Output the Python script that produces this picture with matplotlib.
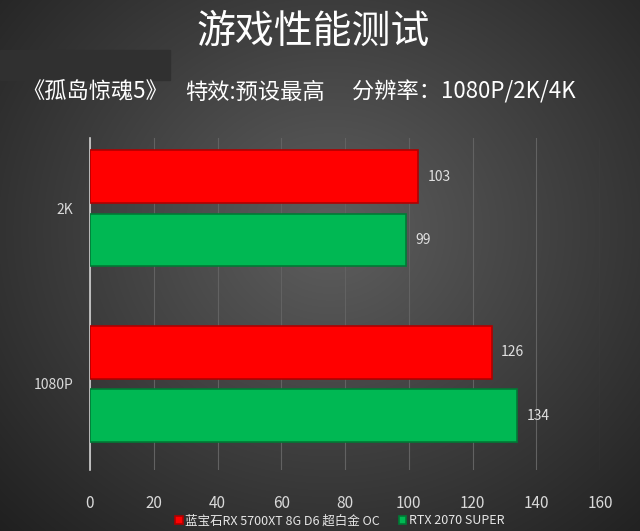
import numpy as np
import matplotlib
matplotlib.use('Agg')
import matplotlib.pyplot as plt
from matplotlib.patches import Rectangle

plt.rcParams['font.family'] = ['Noto Sans CJK SC', 'DejaVu Sans']

# 数据
categories = ['1080P', '2K']
series_names = ['蓝宝石RX 5700XT 8G D6 超白金 OC', 'RTX 2070 SUPER']
amd_vals = [126, 103]
nv_vals = [134, 99]
xticks = [0, 20, 40, 60, 80, 100, 120, 140, 160]

title = '游戏性能测试'
subtitle_parts = ['《孤岛惊魂5》', '特效:预设最高', '分辨率：1080P/2K/4K']
subtitle_x = [0.035, 0.289, 0.550]

red = '#ff0000'
green = '#00b853'

fig = plt.figure(figsize=(6.4, 5.31), dpi=100)

# 背景渐变
bg = fig.add_axes([0, 0, 1, 1], zorder=-10)
yy, xx = np.mgrid[0:531, 0:640]
r = np.sqrt(((xx - 330) / 420.0) ** 2 + ((yy - 230) / 380.0) ** 2)
g = np.clip(0.37 - 0.22 * r, 0.12, 0.4)
bg.imshow(np.dstack([g, g, g]), extent=[0, 640, 531, 0], aspect='auto')
bg.add_patch(Rectangle((0, 50), 170, 30, color='#303030'))
bg.set_xlim(0, 640)
bg.set_ylim(531, 0)
bg.axis('off')

ax = fig.add_axes([0.1406, 0.115, 0.797, 0.625])
ax.set_facecolor('none')

y = np.arange(len(categories))
off = 0.18
h = 0.30
ax.barh(y + off, amd_vals, height=h, color=red, edgecolor='#b00000',
        linewidth=1.2, label=series_names[0], zorder=3)
ax.barh(y - off, nv_vals, height=h, color=green, edgecolor='#007a35',
        linewidth=1.2, label=series_names[1], zorder=3)

for i in range(len(categories)):
    ax.text(amd_vals[i] + 3, y[i] + off, str(amd_vals[i]), color='#e0e0e0',
            fontsize=10, va='center', ha='left')
    ax.text(nv_vals[i] + 3, y[i] - off, str(nv_vals[i]), color='#e0e0e0',
            fontsize=10, va='center', ha='left')

ax.set_xlim(0, 160)
ax.set_ylim(-0.49, 1.40)
ax.set_xticks(xticks)
ax.set_yticks(y)
ax.set_yticklabels(categories)
ax.tick_params(axis='x', colors='#d9d9d9', labelsize=11, length=0, pad=18)
ax.tick_params(axis='y', colors='#d9d9d9', labelsize=10, length=0, pad=12)
ax.grid(axis='x', color='#626262', linewidth=0.8, zorder=0)
for s in ['top', 'right', 'bottom']:
    ax.spines[s].set_visible(False)
ax.spines['left'].set_color('#d0d0d0')
ax.spines['left'].set_linewidth(1.2)

leg = ax.legend(loc='upper center', bbox_to_anchor=(0.49, -0.1), ncol=2,
                frameon=False, fontsize=9, handlelength=0.6, handleheight=0.6,
                handletextpad=0.2, columnspacing=1.5, labelcolor='#e6e6e6')

fig.text(0.49, 0.94, title, color='white', fontsize=28, ha='center', va='center')
for txt, xpos in zip(subtitle_parts, subtitle_x):
    fig.text(xpos, 0.826, txt, color='white', fontsize=16, ha='left', va='center')

fig.savefig('out.png', dpi=100)
